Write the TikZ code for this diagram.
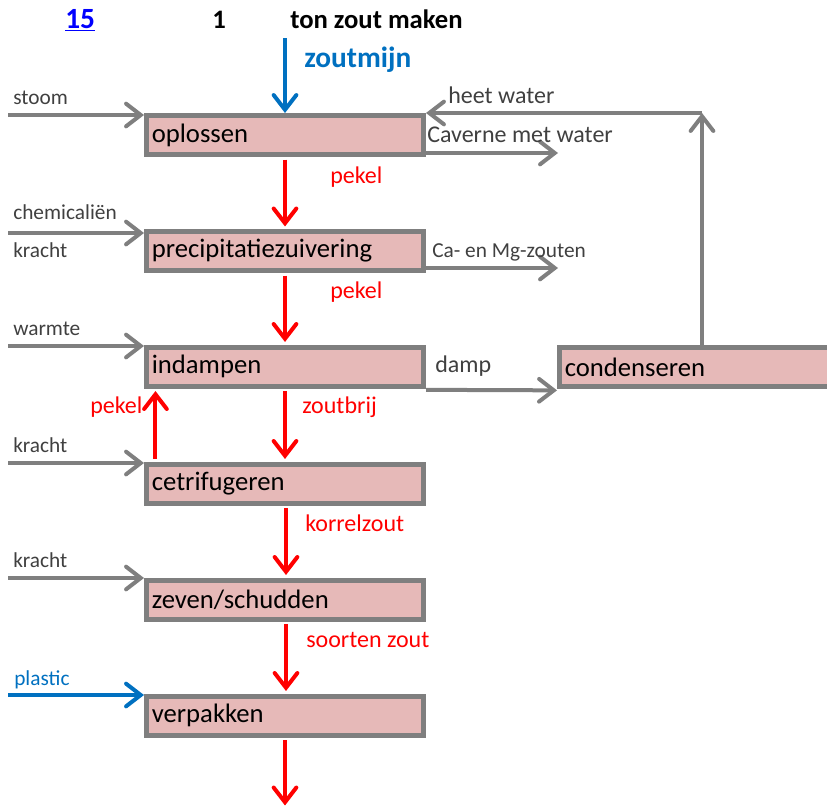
\documentclass[tikz,border=0pt]{standalone}
\usepackage{fontspec}
\setmainfont{Carlito}
\usetikzlibrary{arrows.meta}
\definecolor{boxfill}{HTML}{E6B9B8}
\definecolor{boxline}{HTML}{7F7F7F}
\definecolor{lbl}{HTML}{404040}
\definecolor{flowred}{HTML}{FF0000}
\definecolor{flowblue}{HTML}{0070C0}
\definecolor{linkblue}{HTML}{0000FF}
\tikzset{
  procbox/.style={draw=boxline, fill=boxfill, line width=3.75pt, minimum height=29.25pt,
    inner xsep=4pt, align=left, font=\fontsize{20}{22}\selectfont, text=black},
  stdbox/.style={procbox, minimum width=207.75pt, text width=199.75pt},
  tipg/.style={-{Straight Barb[length=11pt,width=17pt,line cap=round]}},
  grayflow/.style={draw=boxline, line width=3pt, tipg},
  redflow/.style={draw=flowred, line width=3pt, tipg, shorten <=1.9pt, shorten >=1.9pt},
  blueflow/.style={draw=flowblue, line width=3pt, tipg},
  inlbl/.style={anchor=base west, inner sep=0pt, text=lbl, font=\fontsize{16}{18}\selectfont},
  outlbl/.style={anchor=base west, inner sep=0pt, text=lbl, font=\fontsize{18}{20}\selectfont},
  redlbl/.style={anchor=base west, inner sep=0pt, text=flowred, font=\fontsize{18}{20}\selectfont},
}
\begin{document}
\begin{tikzpicture}[x=0.75pt,y=-0.75pt]
\useasboundingbox (0,0) rectangle (827,811);
% title
\node[anchor=base west, inner sep=0pt, text=linkblue, font=\fontsize{22}{24}\bfseries] (num) at (65,28) {\underline{15}};
\node[anchor=base west, inner sep=0pt, font=\fontsize{20}{22}\bfseries] (one) at (212,28) {1};
\node[anchor=base west, inner sep=0pt, font=\fontsize{20}{22}\bfseries] (title) at (290,28) {ton zout maken};
\node[anchor=base west, inner sep=0pt, text=flowblue, font=\fontsize{22}{24}\bfseries] (zm) at (304,67) {zoutmijn};
% boxes
\node[stdbox] (opl) at (285,135) {oplossen};
\node[stdbox] (pre) at (285,251) {precipitatiezuivering};
\node[stdbox] (ind) at (285,366.5) {indampen};
\node[stdbox] (cen) at (285,483.5) {cetrifugeren};
\node[stdbox] (zev) at (285,599.5) {zeven/schudden};
\node[stdbox] (ver) at (285,715.5) {verpakken};
\node[procbox, minimum width=202.5pt, text width=194.5pt] (con) at (694.5,367) {condenseren};
% free ends
\coordinate (zmS) at (285,38);
\coordinate (stoomS) at (8,115);
\coordinate (chemS) at (8,233);
\coordinate (warmS) at (8,346);
\coordinate (kr1S) at (8,463);
\coordinate (kr2S) at (8,578);
\coordinate (plS) at (8,695);
\coordinate (cavE) at (558,153);
\coordinate (camgE) at (558,268);
\coordinate (corner) at (702,113);
\coordinate (endE) at (285,808);
% inputs
\draw[blueflow] (zmS) -- (opl.north);
\draw[grayflow] (stoomS) -- (stoomS -| opl.west);
\draw[grayflow] (chemS) -- (chemS -| pre.west);
\draw[grayflow] (warmS) -- (warmS -| ind.west);
\draw[grayflow] (kr1S) -- (kr1S -| cen.west);
\draw[grayflow] (kr2S) -- (kr2S -| zev.west);
\draw[blueflow] (plS) -- (plS -| ver.west);
% outputs
\draw[grayflow] (cavE -| opl.east) -- (cavE);
\draw[grayflow] (camgE -| pre.east) -- (camgE);
\draw[grayflow] ([yshift=-1pt]ind.south east) -- ([yshift=-1pt]con.south west);
\draw[grayflow] (corner |- con.north) -- (corner);
\draw[grayflow] (corner) -- (corner -| opl.east);
% main red flow
\draw[redflow] (opl.south) -- (pre.north);
\draw[redflow] (pre.south) -- (ind.north);
\draw[redflow] (ind.south) -- (cen.north);
\draw[redflow] ([xshift=8.6pt]cen.north west) -- ([xshift=8.6pt]ind.south west);
\draw[redflow] ([xshift=0.75pt]cen.south) -- ([xshift=0.75pt]zev.north);
\draw[redflow] ([xshift=0.75pt]zev.south) -- ([xshift=0.75pt]ver.north);
\draw[redflow] (ver.south) -- (endE);
% labels
\node[inlbl] (l1) at (13,104) {stoom};
\node[inlbl] (l2) at (13,219) {chemicaliën};
\node[inlbl] (l3) at (13,257) {kracht};
\node[inlbl] (l4) at (13,335) {warmte};
\node[inlbl] (l5) at (13,452) {kracht};
\node[inlbl] (l6) at (13,567) {kracht};
\node[inlbl, text=flowblue] (l7) at (14,685) {plastic};
\node[outlbl] (r1) at (448,103) {heet water};
\node[outlbl] (r2) at (427,142) {Caverne met water};
\node[inlbl] (r3) at (432,257) {Ca- en Mg-zouten};
\node[outlbl] (r4) at (435,372) {damp};
\node[redlbl] (p1) at (330,183) {pekel};
\node[redlbl] (p2) at (330,298) {pekel};
\node[redlbl] (p3) at (90,413) {pekel};
\node[redlbl] (p4) at (302,413) {zoutbrij};
\node[redlbl] (p5) at (305,531) {korrelzout};
\node[redlbl] (p6) at (306,647) {soorten zout};
\end{tikzpicture}
\end{document}
